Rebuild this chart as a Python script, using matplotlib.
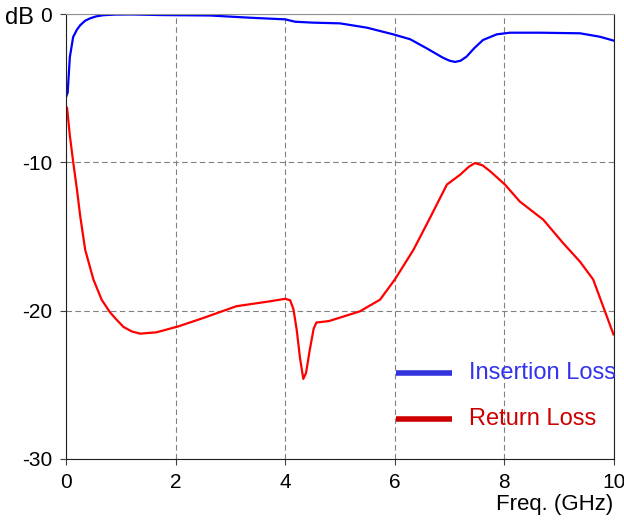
import numpy as np
import matplotlib.pyplot as plt

plt.rcParams['font.family'] = ['Liberation Sans', 'DejaVu Sans']
plt.rcParams['axes.unicode_minus'] = False

# Insertion loss (dB) vs frequency (GHz)
il_freq = [0.0, 0.03, 0.07, 0.13, 0.2, 0.26, 0.35, 0.44, 0.55, 0.68, 0.9, 1.2, 1.72, 2.63, 3.36,
           4.0, 4.18, 4.5, 5.0, 5.49, 5.97, 6.28, 6.58, 6.88, 7.0, 7.1, 7.2, 7.31, 7.45, 7.61,
           7.86, 8.1, 8.65, 9.38, 9.74, 10.0]
il_db = [-5.6, -5.3, -2.9, -1.55, -1.05, -0.75, -0.45, -0.29, -0.16, -0.08, -0.04, -0.03, -0.07, -0.1, -0.25,
         -0.36, -0.52, -0.58, -0.63, -0.92, -1.37, -1.7, -2.31, -2.95, -3.15, -3.23, -3.15, -2.87, -2.3, -1.75,
         -1.37, -1.26, -1.26, -1.3, -1.53, -1.8]

# Return loss (dB) vs frequency (GHz)
rl_freq = [0.0, 0.02, 0.07, 0.13, 0.2, 0.26, 0.35, 0.5, 0.65, 0.8, 0.92, 1.05, 1.2, 1.35, 1.65,
           2.05, 2.5, 3.11, 3.72, 4.0, 4.09, 4.15, 4.21, 4.27, 4.33, 4.38, 4.45, 4.52, 4.57, 4.8,
           5.36, 5.73, 6.0, 6.34, 6.64, 6.95, 7.19, 7.35, 7.46, 7.6, 7.74, 8.01, 8.28, 8.71, 9.07,
           9.38, 9.62, 9.8, 9.99]
rl_db = [-6.2, -6.35, -8.2, -9.95, -11.85, -13.65, -15.9, -17.9, -19.26, -20.1, -20.6, -21.1, -21.4, -21.55, -21.46,
         -21.06, -20.5, -19.7, -19.37, -19.2, -19.3, -19.9, -21.3, -23.2, -24.6, -24.2, -22.6, -21.2, -20.8, -20.7,
         -20.05, -19.26, -17.9, -15.9, -13.76, -11.5, -10.84, -10.3, -10.05, -10.2, -10.6, -11.5, -12.64, -13.87, -15.44,
         -16.7, -17.9, -19.7, -21.6]

fig = plt.figure(figsize=(6.24, 5.23), dpi=100)
ax = fig.add_axes([0.1058, 0.1224, 0.8782, 0.8508])

ax.plot(il_freq, il_db, color='#0000ff', lw=1.6)
ax.plot(rl_freq, rl_db, color='#ff0000', lw=1.6)

ax.set_xlim(0, 10)
ax.set_ylim(-30, 0)
ax.set_xticks([0, 2, 4, 6, 8, 10])
ax.set_yticks([0, -10, -20, -30])
ax.grid(True, ls=(0, (5, 3)), color='#808080', lw=0.8)
ax.tick_params(labelsize=15, length=4, color='#404040', pad=6)
for s in ['left', 'bottom', 'right']:
    ax.spines[s].set_color('#202020')
ax.spines['top'].set_color('#909090')

# legend drawn by hand to match the reference layout
ax.plot([6.02, 7.05], [-24.2, -24.2], color='#3333dd', lw=4, solid_capstyle='butt')
ax.text(7.36, -24.2, 'Insertion Loss', color='#3333ee', fontsize=17, va='center')
ax.plot([6.02, 7.05], [-27.3, -27.3], color='#cc0000', lw=4, solid_capstyle='butt')
ax.text(7.36, -27.3, 'Return Loss', color='#cc0000', fontsize=17, va='center')

fig.text(0.008, 0.966, 'dB', fontsize=17, va='center')
fig.text(0.982, 0.036, 'Freq. (GHz)', fontsize=16, ha='right', va='center')

fig.savefig('out.png', dpi=100)
